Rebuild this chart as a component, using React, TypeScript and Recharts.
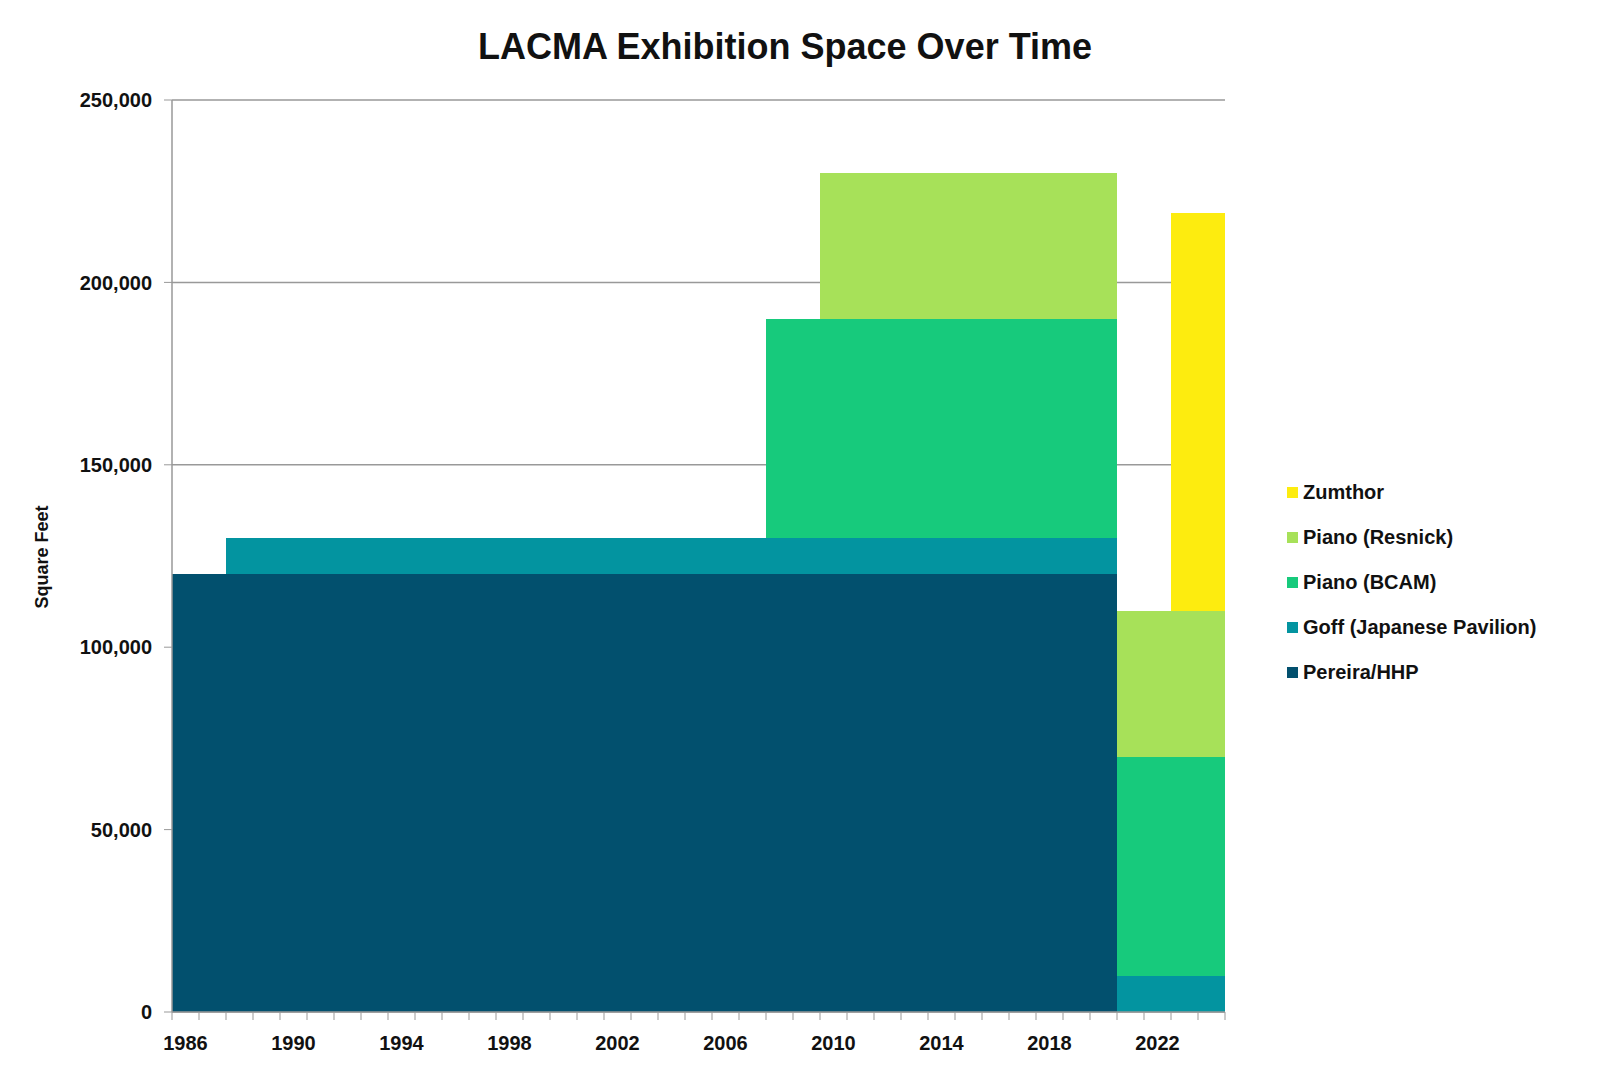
import React from "react";
import { BarChart, Bar, XAxis, YAxis, CartesianGrid } from "recharts";

const years = [
  1986, 1987, 1988, 1989, 1990, 1991, 1992, 1993, 1994, 1995,
  1996, 1997, 1998, 1999, 2000, 2001, 2002, 2003, 2004, 2005,
  2006, 2007, 2008, 2009, 2010, 2011, 2012, 2013, 2014, 2015,
  2016, 2017, 2018, 2019, 2020, 2021, 2022, 2023, 2024,
];

// square feet per building, one value per year
const pereira = [
  120000, 120000, 120000, 120000, 120000, 120000, 120000, 120000, 120000, 120000,
  120000, 120000, 120000, 120000, 120000, 120000, 120000, 120000, 120000, 120000,
  120000, 120000, 120000, 120000, 120000, 120000, 120000, 120000, 120000, 120000,
  120000, 120000, 120000, 120000, 120000, 0, 0, 0, 0,
];
const goff = [
  0, 0, 10000, 10000, 10000, 10000, 10000, 10000, 10000, 10000,
  10000, 10000, 10000, 10000, 10000, 10000, 10000, 10000, 10000, 10000,
  10000, 10000, 10000, 10000, 10000, 10000, 10000, 10000, 10000, 10000,
  10000, 10000, 10000, 10000, 10000, 10000, 10000, 10000, 10000,
];
const bcam = [
  0, 0, 0, 0, 0, 0, 0, 0, 0, 0,
  0, 0, 0, 0, 0, 0, 0, 0, 0, 0,
  0, 0, 60000, 60000, 60000, 60000, 60000, 60000, 60000, 60000,
  60000, 60000, 60000, 60000, 60000, 60000, 60000, 60000, 60000,
];
const resnick = [
  0, 0, 0, 0, 0, 0, 0, 0, 0, 0,
  0, 0, 0, 0, 0, 0, 0, 0, 0, 0,
  0, 0, 0, 0, 40000, 40000, 40000, 40000, 40000, 40000,
  40000, 40000, 40000, 40000, 40000, 40000, 40000, 40000, 40000,
];
const zumthor = [
  0, 0, 0, 0, 0, 0, 0, 0, 0, 0,
  0, 0, 0, 0, 0, 0, 0, 0, 0, 0,
  0, 0, 0, 0, 0, 0, 0, 0, 0, 0,
  0, 0, 0, 0, 0, 0, 0, 109000, 109000,
];

const yTicks = [0, 50000, 100000, 150000, 200000, 250000];

const series = [
  { key: "pereira", name: "Pereira/HHP", color: "#02506e", values: pereira },
  { key: "goff", name: "Goff (Japanese Pavilion)", color: "#0394a0", values: goff },
  { key: "bcam", name: "Piano (BCAM)", color: "#17ca7c", values: bcam },
  { key: "resnick", name: "Piano (Resnick)", color: "#a7e159", values: resnick },
  { key: "zumthor", name: "Zumthor", color: "#fdec0f", values: zumthor },
];

const data = years.map((year, i) => {
  const row: Record<string, number> = { year };
  series.forEach((s) => (row[s.key] = s.values[i]));
  return row;
});

const FONT = "'Liberation Sans', Arial, sans-serif";
// whole-pixel bands keep the stacked blocks seamless
const BAND = 27;
const PLOT_W = BAND * years.length;
const Y_AXIS_W = 164;
const CHART_W = 1584;

const YearTick = (props: any) => {
  const { x, y, payload } = props;
  const idx = years.indexOf(Number(payload.value));
  const left = x - BAND / 2;
  return (
    <g>
      <line x1={left} y1={y} x2={left} y2={y + 8} stroke="#999" />
      {idx === years.length - 1 && (
        <line x1={x + BAND / 2} y1={y} x2={x + BAND / 2} y2={y + 8} stroke="#999" />
      )}
      {idx % 4 === 0 && (
        <text x={x} y={y + 38} textAnchor="middle" fontSize={20} fontWeight="bold" fill="#111" fontFamily={FONT}>
          {payload.value}
        </text>
      )}
    </g>
  );
};

export default function App() {
  return (
    <div style={{ position: "relative", width: CHART_W, height: 1072, fontFamily: FONT, background: "#fff" }}>
      <div
        style={{
          position: "absolute",
          left: 0,
          top: 18,
          width: 1554,
          textAlign: "center",
          fontSize: 36,
          fontWeight: "bold",
          color: "#111",
        }}
      >
        LACMA Exhibition Space Over Time
      </div>
      <div
        style={{
          position: "absolute",
          left: 34,
          top: 549,
          transform: "translate(-50%, -50%) rotate(-90deg)",
          fontSize: 18,
          fontWeight: "bold",
          color: "#111",
          whiteSpace: "nowrap",
        }}
      >
        Square Feet
      </div>
      <BarChart
        width={CHART_W}
        height={1072}
        data={data}
        barCategoryGap={0}
        barGap={0}
        margin={{ top: 92, right: CHART_W - Y_AXIS_W - PLOT_W, bottom: 28, left: 0 }}
      >
        <CartesianGrid vertical={false} stroke="#999" strokeWidth={1.5} />
        <XAxis
          dataKey="year"
          interval={0}
          height={40}
          tickSize={0}
          tickMargin={0}
          axisLine={{ stroke: "#999", strokeWidth: 1.5 }}
          tickLine={false}
          tick={<YearTick />}
        />
        <YAxis
          width={Y_AXIS_W}
          domain={[0, 250000]}
          ticks={yTicks}
          tickFormatter={(v: number) => v.toLocaleString("en-US")}
          tickSize={8}
          tickMargin={12}
          axisLine={{ stroke: "#999", strokeWidth: 1.5 }}
          tickLine={{ stroke: "#999" }}
          tick={{ fontSize: 20, fontWeight: "bold", fill: "#111", fontFamily: FONT }}
        />
        {series.map((s) => (
          <Bar
            key={s.key}
            dataKey={s.key}
            name={s.name}
            stackId="a"
            fill={s.color}
            shapeRendering="crispEdges"
            isAnimationActive={false}
          />
        ))}
      </BarChart>
      <div style={{ position: "absolute", left: 1279, top: 462 }}>
        {[...series].reverse().map((s) => (
          <div key={s.key} style={{ display: "flex", alignItems: "center", height: 45 }}>
            <span style={{ width: 11, height: 11, background: s.color, marginRight: 5 }} />
            <span style={{ fontSize: 20, fontWeight: "bold", color: "#111" }}>{s.name}</span>
          </div>
        ))}
      </div>
    </div>
  );
}
